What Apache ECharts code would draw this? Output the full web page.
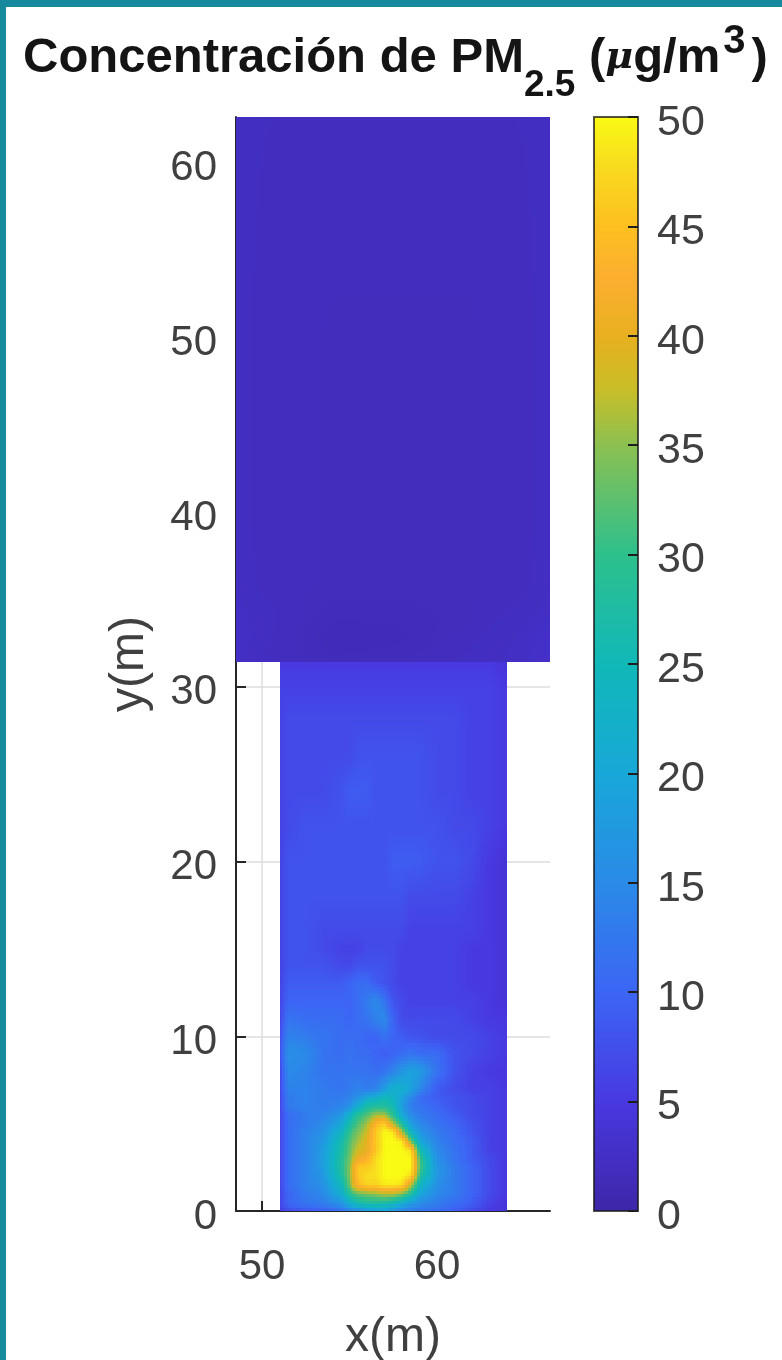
<!DOCTYPE html>
<html><head><meta charset="utf-8">
<style>html,body{margin:0;padding:0;background:#fff}#c{width:782px;height:1360px}</style>
<script src="https://cdn.jsdelivr.net/npm/echarts@6/dist/echarts.min.js"></script>
</head><body><div id="c"></div>
<script>
var xTicks = [50, 60];
var yTicks = [0, 10, 20, 30, 40, 50, 60];

// colour scale: [value, colour]
var scaleValues = [0, 5, 10, 15, 20, 25, 30, 35, 37.5, 40, 42.5, 45, 47.5, 50];
var scaleColors = ['#3e26a8', '#4838e0', '#3c65f5', '#2a8ae8', '#18a8d8', '#10b8b8', '#2dc08c', '#8cc050', '#c8be28', '#e8b020', '#fcae30', '#fdc020', '#f8d820', '#f9fb14'];

// lower block
var lowerX = [51, 51.5, 52.5, 53.5, 54.5, 55, 55.5, 56, 56.5, 57, 57.5, 58, 58.5, 59, 60, 61, 62, 63, 64];
var lowerY = [0, 0.4, 1, 1.5, 2, 2.5, 3, 3.5, 4, 4.5, 5, 5.5, 6, 6.5, 7, 8, 9, 10, 11, 12, 13, 14, 15, 16, 18, 20, 22, 24, 26, 28, 30, 31.4];
var lowerValues = [
[5,7,8,9,11,13,14,16,17,18,16,14,13,12,11,9,7,5,4],
[6,10,12,13,16,21,25,27,27,26,24,20,17,15,13,11,9,6,4],
[6,10,13,15,21,29,33,34,35,37,37,34,28,20,15,13,10,7,5],
[6,11,14,16,24,34,44,47,47,49,49,48,37,24,16,13,10,7,5],
[6,11,14,17,27,35,46,48,48,50,50,50,48,29,17,13,10,7,5],
[6,11,14,18,28,35,46,46,48,50,50,50,50,32,17,13,10,7,5],
[6,11,14,18,28,34,41,43,48,50,50,50,50,31,16,12,9,7,5],
[6,11,14,18,27,33,38,40,46,50,50,50,48,26,15,12,9,6,5],
[6,11,14,17,26,32,36,40,46,50,50,49,33,20,14,11,9,6,5],
[6,11,14,16,23,30,34,38,46,50,49,36,23,17,13,11,8,6,5],
[6,11,13,15,20,27,32,36,44,47,37,28,18,15,12,10,8,6,5],
[6,11,13,14,17,23,29,32,36,36,29,20,15,13,11,9,7,6,5],
[6,13,14,13,14,16,21,27,28,28,26,18,13,12,10,8,7,6,5],
[6,13,14,13,13,14,16,20,22,25,23,19,15,11,9,8,7,6,5],
[6,14,14,13,12,13,14,13,14,18,22,22,19,15,9,7,6,6,5],
[6,15,14,12,12,12,12,12,11,12,14,17,19,18,12,8,6,5,5],
[7,16,15,12,11,12,11,11,10,9,10,11,12,11,11,8,7,6,5],
[7,14,13,12,11,11,11,10,10,12,10,9,8,8,7,7,7,6,5],
[6,12,11,11,11,10,11,12,14,15,10,7,7,7,7,7,6,5,5],
[6,10,10,10,10,10,11,13,15,12,8,7,6,6,6,6,6,5,4],
[6,9,9,9,9,10,11,11,9,8,7,6,6,6,6,6,5,5,4],
[6,8,8,8,7,7,8,8,8,8,7,6,6,6,6,6,5,5,4],
[6,8,8,7,6,6,6,7,7,7,7,6,6,6,6,6,5,5,4],
[6,8,8,7,7,7,7,7,7,7,7,7,6,6,6,6,6,5,4],
[6,8,8,8,8,8,8,8,8,8,8,8,7,7,7,7,6,5,4],
[6,8,8,8,8,8,8,8,8,8,9,9,9,9,8,8,7,5,4],
[6,7,8,8,8,8,8,8,8,8,8,8,8,8,8,7,7,6,5],
[6,7,7,7,8,9,9,9,8,8,8,8,8,8,7,7,6,6,5],
[6,7,7,7,7,7,8,8,8,8,8,8,8,8,7,7,6,6,5],
[6,7,7,7,7,7,7,7,7,7,7,7,7,7,7,7,6,6,5],
[6,6,6,6,6,6,6,6,6,6,6,6,6,6,6,6,6,6,5],
[5,5,5,5,5,5,5,5,5,5,5,5,5,5,5,5,5,5,4]
];

// upper block
var upperX = [48.51, 50, 54, 58, 62, 65, 66.46];
var upperY = [31.4, 32, 33, 34, 36, 40, 50, 62.62];
var upperValues = [
[2.6, 2.2, 1.8, 1.9, 2.2, 2.5, 3.0],
[2.6, 2.1, 1.6, 1.7, 2.1, 2.5, 3.0],
[2.6, 2.2, 1.5, 1.6, 2.0, 2.4, 2.9],
[2.5, 2.2, 1.7, 1.7, 1.9, 2.2, 2.6],
[2.3, 2.0, 1.9, 1.9, 1.9, 2.0, 2.3],
[2.2, 2.0, 1.9, 1.9, 1.9, 2.0, 2.2],
[2.2, 2.0, 1.9, 1.9, 1.9, 2.0, 2.2],
[2.2, 2.1, 2.0, 2.0, 2.0, 2.1, 2.2]
];
var barRange = [0, 50];

var FONT = 'Liberation Sans';
var AXIS = '#262626';
var LABEL = '#404040';
var GRIDLINE = '#dcdcdc';
var INK = '#141414';

function hex(c){return [parseInt(c.substr(1,2),16),parseInt(c.substr(3,2),16),parseInt(c.substr(5,2),16)];}
var rgbStops = scaleColors.map(hex);
function colorOf(v){
  var i = 0;
  while (i < scaleValues.length - 2 && v > scaleValues[i+1]) i++;
  var t = Math.max(0, Math.min(1, (v - scaleValues[i]) / (scaleValues[i+1] - scaleValues[i])));
  var a = rgbStops[i], b = rgbStops[i+1];
  return 'rgb(' + Math.round(a[0]+(b[0]-a[0])*t) + ',' + Math.round(a[1]+(b[1]-a[1])*t) + ',' + Math.round(a[2]+(b[2]-a[2])*t) + ')';
}
function cells(xs, ys, vals){
  var out = [];
  for (var j = 0; j < ys.length - 1; j++)
    for (var i = 0; i < xs.length - 1; i++)
      out.push([xs[i], xs[i+1], ys[j], ys[j+1], vals[j][i], vals[j][i+1], vals[j+1][i], vals[j+1][i+1]]);
  return out;
}
// one grid cell is painted with a smooth blend of its four corner readings
function renderCell(params, api){
  var x0=api.value(0), x1=api.value(1), y0=api.value(2), y1=api.value(3);
  var v00=api.value(4), v10=api.value(5), v01=api.value(6), v11=api.value(7);
  var p0=api.coord([x0,y0]), p1=api.coord([x1,y1]);
  var step = 3.5;
  var nx=Math.max(1,Math.ceil(Math.abs(p1[0]-p0[0])/step)), ny=Math.max(1,Math.ceil(Math.abs(p1[1]-p0[1])/step));
  var kids=[];
  for (var b=0;b<ny;b++) for (var a=0;a<nx;a++){
    var l=Math.round(p0[0]+(p1[0]-p0[0])*a/nx), r=Math.round(p0[0]+(p1[0]-p0[0])*(a+1)/nx);
    var t=Math.round(p0[1]+(p1[1]-p0[1])*(b+1)/ny), m=Math.round(p0[1]+(p1[1]-p0[1])*b/ny);
    var u=(a+.5)/nx, w=(b+.5)/ny;
    var v=v00*(1-u)*(1-w)+v10*u*(1-w)+v01*(1-u)*w+v11*u*w;
    kids.push({type:'rect',silent:true,shape:{x:l,y:t,width:r-l,height:m-t},style:{fill:colorOf(v)}});
  }
  return {type:'group',children:kids};
}
function renderBar(params, api){
  var p0=api.coord([0,api.value(0)]), p1=api.coord([1,api.value(1)]);
  var stops=scaleValues.map(function(v,i){return {offset:v/barRange[1],color:scaleColors[i]};});
  return {type:'rect',silent:true,shape:{x:p0[0],y:p1[1],width:p1[0]-p0[0],height:p0[1]-p1[1]},
    style:{fill:new echarts.graphic.LinearGradient(0,1,0,0,stops),stroke:'rgba(25,25,25,0.75)',lineWidth:2}};
}
var cellEncode={x:[0,1],y:[2,3]};
var chart = echarts.init(document.getElementById('c'),null,{renderer:'canvas',width:782,height:1360});
chart.setOption({
  animation:false,
  backgroundColor:'#ffffff',
  title:{
    left:23, top:12, padding:0,
    text:'{a|Concentración de PM}{sub|2.5}{b| }{b|(}{mu|μ}{b|g/m}{sup|3}{par|)}',
    textStyle:{fontFamily:FONT,fontSize:49,rich:{
      a:{fontFamily:FONT,fontSize:49,fontWeight:'bold',color:INK,lineHeight:92},
      b:{fontFamily:FONT,fontSize:49,fontWeight:'bold',color:INK,lineHeight:92},
      par:{fontFamily:FONT,fontSize:49,fontWeight:'bold',color:INK,lineHeight:92,padding:[0,0,0,6]},
      mu:{fontFamily:'DejaVu Serif',fontSize:38,fontStyle:'italic',color:INK,lineHeight:92},
      sub:{fontFamily:FONT,fontSize:37,fontWeight:'bold',color:INK,lineHeight:92,verticalAlign:'bottom'},
      sup:{fontFamily:FONT,fontSize:40,fontWeight:'bold',color:INK,lineHeight:36,verticalAlign:'top',padding:[10,0,0,3]}
    }}
  },
  graphic:[
    {type:'rect',z:100,silent:true,shape:{x:0,y:0,width:782,height:7},style:{fill:'#17899d'}},
    {type:'rect',z:100,silent:true,shape:{x:0,y:0,width:6,height:1360},style:{fill:'#17899d'}}
  ],
  grid:[
    {left:236,top:117,width:314,height:1094,outerBoundsMode:'none',containLabel:false},
    {left:594,top:117,width:44,height:1094,outerBoundsMode:'none',containLabel:false}
  ],
  xAxis:[
    {type:'value',gridIndex:0,min:48.51,max:66.46,name:'x(m)',nameLocation:'middle',nameGap:103,
     nameTextStyle:{fontFamily:FONT,fontSize:48,color:LABEL},
     axisLine:{show:true,onZero:false,lineStyle:{color:AXIS,width:2}},
     axisTick:{show:true,inside:true,length:10,customValues:xTicks,lineStyle:{color:AXIS,width:2}},
     axisLabel:{show:true,margin:35,customValues:xTicks,fontFamily:FONT,fontSize:42,color:LABEL},
     splitLine:{show:true,lineStyle:{color:GRIDLINE,width:1.5}}},
    {type:'value',gridIndex:1,min:0,max:1,show:false}
  ],
  yAxis:[
    {type:'value',gridIndex:0,min:0,max:62.62,name:'y(m)',nameLocation:'middle',nameGap:82,
     nameTextStyle:{fontFamily:FONT,fontSize:48,color:LABEL},
     axisLine:{show:true,onZero:false,lineStyle:{color:AXIS,width:2}},
     axisTick:{show:true,inside:true,length:10,customValues:yTicks,lineStyle:{color:AXIS,width:2}},
     axisLabel:{show:true,margin:19,customValues:yTicks,formatter:'{v|{value}}',
       rich:{v:{fontFamily:FONT,fontSize:42,color:LABEL,padding:[12,0,0,0]}}},
     splitLine:{show:true,lineStyle:{color:GRIDLINE,width:1.5}}},
    {type:'value',gridIndex:1,position:'right',min:0,max:50,interval:5,z:5,
     axisLine:{show:false,onZero:false},
     axisTick:{show:true,inside:true,length:10,lineStyle:{color:'#1e1e1e',width:2}},
     axisLabel:{show:true,margin:19,formatter:'{v|{value}}',
       rich:{v:{fontFamily:FONT,fontSize:43,color:LABEL,padding:[12,0,0,0]}}},
     splitLine:{show:false}}
  ],
  series:[
    {type:'custom',coordinateSystem:'cartesian2d',xAxisIndex:0,yAxisIndex:0,z:2,silent:true,progressive:0,
     renderItem:renderCell,encode:cellEncode,data:cells(lowerX,lowerY,lowerValues)},
    {type:'custom',coordinateSystem:'cartesian2d',xAxisIndex:0,yAxisIndex:0,z:3,silent:true,progressive:0,
     renderItem:renderCell,encode:cellEncode,data:cells(upperX,upperY,upperValues)},
    {type:'custom',coordinateSystem:'cartesian2d',xAxisIndex:1,yAxisIndex:1,z:2,silent:true,clip:false,
     renderItem:renderBar,encode:{y:[0,1]},data:[barRange]}
  ]
});
</script></body></html>
